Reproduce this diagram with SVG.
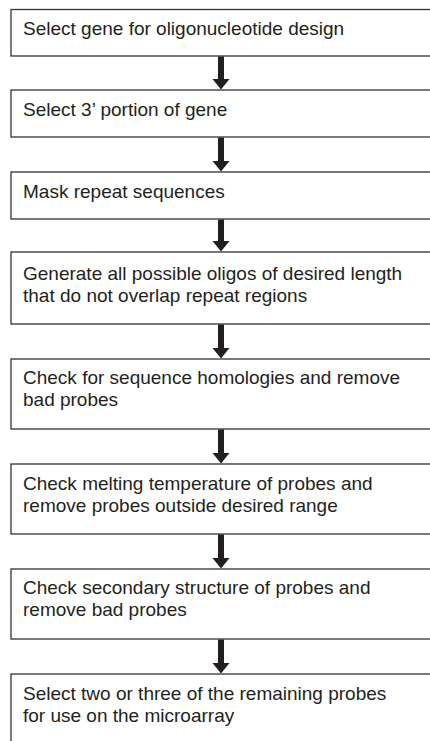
<svg xmlns="http://www.w3.org/2000/svg" width="430" height="741" viewBox="0 0 430 741">
<defs>
<style>
.box{fill:#fff;stroke:#333;stroke-width:1.3}
.t{font-family:"Liberation Sans",Arial,sans-serif;font-size:19px;fill:#231f20}
.arr{fill:#231f20}
</style>
</defs>
<rect width="430" height="741" fill="#fff"/>
<g id="n1"><rect class="box" x="11" y="9.5" width="440" height="46.5"/><text class="t" x="23" y="35">Select gene for oligonucleotide design</text></g>
<g id="n2"><rect class="box" x="11" y="90" width="440" height="47"/><text class="t" x="23" y="116">Select 3’ portion of gene</text></g>
<g id="n3"><rect class="box" x="11" y="172" width="440" height="47"/><text class="t" x="23" y="198">Mask repeat sequences</text></g>
<g id="n4"><rect class="box" x="11" y="252" width="440" height="72"/><text class="t" x="23" y="280">Generate all possible oligos of desired length</text><text class="t" x="23" y="302">that do not overlap repeat regions</text></g>
<g id="n5"><rect class="box" x="11" y="359" width="440" height="70"/><text class="t" x="23" y="384">Check for sequence homologies and remove</text><text class="t" x="23" y="406">bad probes</text></g>
<g id="n6"><rect class="box" x="11" y="464" width="440" height="70"/><text class="t" x="23" y="490">Check melting temperature of probes and</text><text class="t" x="23" y="512">remove probes outside desired range</text></g>
<g id="n7"><rect class="box" x="11" y="569" width="440" height="70"/><text class="t" x="23" y="594">Check secondary structure of probes and</text><text class="t" x="23" y="616">remove bad probes</text></g>
<g id="n8"><rect class="box" x="11" y="674" width="440" height="100"/><text class="t" x="23" y="700">Select two or three of the remaining probes</text><text class="t" x="23" y="722">for use on the microarray</text></g>
<g id="connectors">
<path class="arr" d="M218 56.5H224V79H229.5L221 89.5L212.5 79H218Z"/>
<path class="arr" d="M218 137.5H224V161H229.5L221 171.5L212.5 161H218Z"/>
<path class="arr" d="M218 219.5H224V241H229.5L221 251.5L212.5 241H218Z"/>
<path class="arr" d="M218 324.5H224V348H229.5L221 358.5L212.5 348H218Z"/>
<path class="arr" d="M218 429.5H224V453H229.5L221 463.5L212.5 453H218Z"/>
<path class="arr" d="M218 534.5H224V558H229.5L221 568.5L212.5 558H218Z"/>
<path class="arr" d="M218 639.5H224V663H229.5L221 673.5L212.5 663H218Z"/>
</g>
</svg>
